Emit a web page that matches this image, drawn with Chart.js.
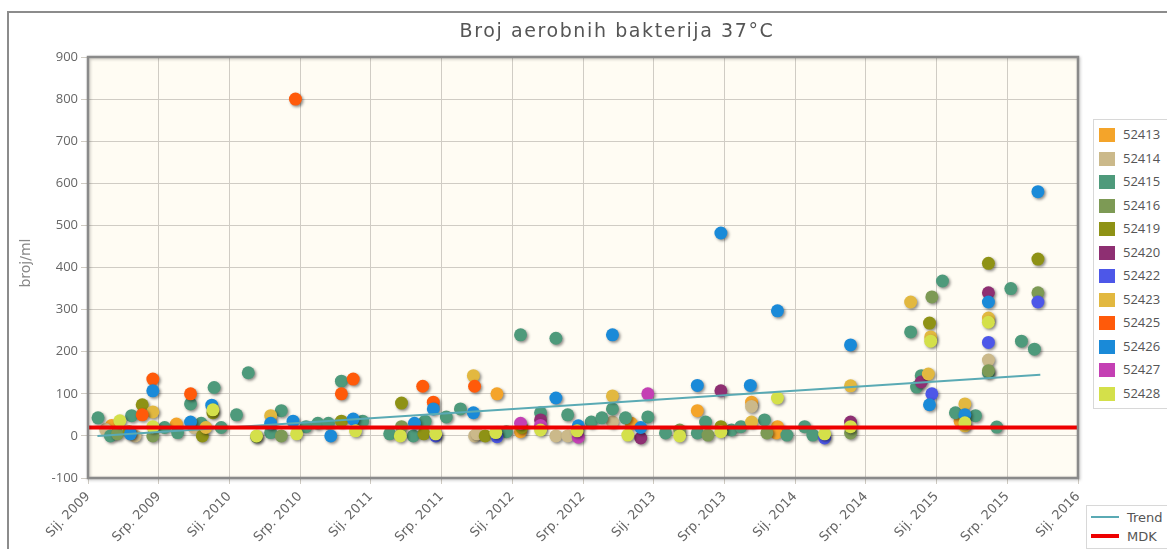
<!DOCTYPE html>
<html>
<head>
<meta charset="utf-8">
<script src="https://cdn.jsdelivr.net/npm/chart.js@4"></script>
<style>
    body { margin: 0; background: #fff; overflow: hidden; }
    #wrap { position: absolute; left: 0; top: 0; width: 1167px; height: 549px; }
    #title { position: absolute; left: 0; top: 19px; width: 1234px; text-align: center;
             font: 19px "DejaVu Sans", sans-serif; color: #555; letter-spacing: 1.6px; }
    #ytitle { position: absolute; left: -5px; top: 255px; width: 60px; text-align: center;
              font: 14px "DejaVu Sans", sans-serif; color: #888; transform: rotate(-90deg); }
    .legend { position: absolute; background: #fff; border: 1px solid #d8d8d8;
              font: 13px "Open Sans", sans-serif; color: #555; }
    #legendSeries { left: 1093px; top: 119px; width: 90px; padding: 3px 0; }
    #legendSeries div { height: 23.5px; line-height: 23.5px; position: relative; padding-left: 29px; }
    #legendSeries span { position: absolute; left: 5px; top: 5px; width: 16px; height: 14px; }
    #legendLines { left: 1086px; top: 505px; width: 90px; padding: 2px 0; font: 13px "DejaVu Sans", sans-serif; }
    #legendLines div { height: 19px; line-height: 19px; position: relative; padding-left: 40px; }
    #legendLines span { position: absolute; left: 4px; top: 9px; width: 28px; }
</style>
</head>
<body>
<div id="wrap">
    <canvas id="chart" width="1167" height="549"></canvas>
    <div id="title">Broj aerobnih bakterija 37°C</div>
    <div id="ytitle">broj/ml</div>
    <div id="legendSeries" class="legend"></div>
    <div id="legendLines" class="legend"></div>
</div>
<script>
// x = months since Sij. 2009, y = broj/ml
const tickLabels = ["Sij. 2009", "Srp. 2009", "Sij. 2010", "Srp. 2010", "Sij. 2011", "Srp. 2011", "Sij. 2012", "Srp. 2012",
    "Sij. 2013", "Srp. 2013", "Sij. 2014", "Srp. 2014", "Sij. 2015", "Srp. 2015", "Sij. 2016"];

const seriesNames = ["52413", "52414", "52415", "52416", "52419", "52420", "52422", "52423", "52425", "52426", "52427", "52428"];
const seriesColors = ["#f4a42a", "#cbb98a", "#4e9a7b", "#7d9a55", "#8e9215", "#8e2f72", "#4d57e8", "#e2b840", "#ff5a0a", "#1a8ad8", "#c440b4", "#d4e04a"];

const s52413 = [[2.0, 25], [7.5, 28], [34.7, 100], [36.7, 10], [46.1, 30], [51.7, 60], [56.3, 80], [58.5, 22], [58.4, 7], [74.0, 35]];
const s52414 = [[1.5, 15], [4.0, 0], [9.0, 20], [32.8, 0], [33.0, 5], [39.7, 0], [40.7, 0], [44.5, 33], [56.3, 70], [76.4, 180]];
const s52415 = [[0.85, 43], [1.9, 0], [3.7, 48], [6.5, 20], [7.6, 8], [8.7, 76], [9.6, 30], [10.7, 115], [11.3, 20], [12.6, 50],
    [13.6, 150], [15.5, 8], [16.4, 60], [18.5, 22], [19.5, 30], [20.4, 30], [21.5, 130], [23.3, 35], [25.6, 5], [27.6, 0],
    [28.6, 35], [30.4, 45], [31.6, 64], [35.5, 10], [36.7, 240], [38.4, 55], [39.7, 232], [40.7, 50], [42.7, 33], [43.6, 43],
    [44.5, 64], [45.6, 43], [47.5, 45], [49.0, 7], [51.7, 7], [52.4, 33], [54.6, 14], [55.4, 22], [57.4, 38], [59.3, 2],
    [60.8, 22], [61.5, 2], [69.8, 247], [70.7, 143], [70.3, 116], [72.5, 368], [73.6, 55], [75.3, 48], [77.1, 21], [76.4, 150],
    [78.3, 350], [79.2, 225], [80.3, 206]];
const s52416 = [[2.5, 5], [5.5, 0], [14.3, -2], [16.4, 0], [26.6, 22], [50.2, 14], [52.6, 2], [57.6, 7], [64.7, 7], [71.6, 330], [76.4, 155], [80.6, 340]];
const s52419 = [[3.5, 10], [4.6, 74], [9.7, 0], [10.6, 55], [21.5, 35], [26.6, 78], [28.5, 5], [33.7, 0], [36.8, 20], [53.7, 22], [71.4, 268], [76.4, 410], [80.6, 420]];
const s52420 = [[38.4, 38], [46.9, -5], [53.7, 107], [64.7, 33], [70.7, 128], [76.4, 340]];
const s52422 = [[29.5, 0], [34.7, -2], [62.5, -5], [71.6, 100], [76.4, 222], [80.6, 318]];
const s52423 = [[5.5, 57], [10.0, 20], [15.5, 48], [32.7, 143], [44.5, 95], [56.3, 33], [64.7, 119], [69.8, 318], [71.5, 235], [71.3, 147], [74.4, 76], [74.4, 24], [76.4, 280]];
const s52425 = [[4.6, 50], [5.5, 135], [8.7, 100], [17.6, 800], [21.5, 100], [22.5, 135], [28.4, 118], [29.3, 80], [32.8, 118]];
const s52426 = [[3.6, 5], [5.5, 107], [8.7, 33], [10.5, 73], [15.5, 30], [17.4, 35], [20.6, 0], [22.5, 40], [27.7, 30], [29.3, 64],
    [32.7, 55], [39.7, 90], [41.6, 24], [44.5, 240], [46.9, 20], [51.7, 120], [53.7, 482], [56.2, 120], [58.5, 297], [64.7, 216],
    [71.4, 74], [74.4, 50], [76.4, 318], [80.6, 580]];
const s52427 = [[36.7, 30], [38.4, 25], [41.6, -3], [47.5, 100]];
const s52428 = [[2.7, 36], [5.5, 22], [10.6, 62], [14.3, 0], [17.7, 5], [22.7, 12], [26.5, 0], [29.5, 5], [34.6, 8], [38.4, 14],
    [41.5, 12], [45.8, 2], [50.2, 0], [53.7, 10], [58.5, 90], [62.5, 5], [64.7, 22], [71.5, 225], [74.4, 31], [76.4, 270]];

const seriesData = [s52413, s52414, s52415, s52416, s52419, s52420, s52422, s52423, s52425, s52426, s52427, s52428];

const trendPoints = [[0.8, 0], [80.8, 145]];
const mdkValue = 20;

// =============== Datasets ===============
const datasets = [
    {
        type: "line", label: "MDK", order: 0,
        data: [{ x: 0, y: mdkValue }, { x: 84, y: mdkValue }],
        borderColor: "#ee0000", borderWidth: 4, pointRadius: 0
    },
    {
        type: "line", label: "Trend", order: 1,
        data: trendPoints.map(p => ({ x: p[0], y: p[1] })),
        borderColor: "#5aaab4", borderWidth: 2, pointRadius: 0
    }
];
seriesNames.forEach((name, i) => {
    datasets.push({
        type: "scatter", label: name, shadow: true,
        order: 2 + (seriesNames.length - 1 - i), // later series drawn on top
        data: seriesData[i].map(p => ({ x: p[0], y: p[1] })),
        backgroundColor: seriesColors[i],
        pointRadius: 6.5, pointBorderWidth: 0
    });
});

// =============== Plot background, frame and dot shadows ===============
const decorPlugin = {
    id: "decor",
    beforeDraw(chart) {
        const { ctx, chartArea: a } = chart;
        ctx.save();
        ctx.fillStyle = "#fffcf3";
        ctx.fillRect(a.left, a.top, a.right - a.left, a.bottom - a.top);
        ctx.strokeStyle = "#8c8c8c";
        ctx.lineWidth = 2;
        ctx.beginPath();
        ctx.moveTo(8, 549); ctx.lineTo(8, 12); ctx.lineTo(1167, 12);
        ctx.stroke();
        ctx.restore();
    },
    beforeDatasetDraw(chart, args) {
        if (!chart.data.datasets[args.index].shadow) return;
        const ctx = chart.ctx;
        ctx.save();
        ctx.shadowColor = "rgba(0,0,0,0.45)";
        ctx.shadowBlur = 3;
        ctx.shadowOffsetX = 1.5;
        ctx.shadowOffsetY = 1.5;
    },
    afterDatasetDraw(chart, args) {
        if (chart.data.datasets[args.index].shadow) chart.ctx.restore();
    },
    afterDraw(chart) {
        const { ctx, chartArea: a } = chart;
        ctx.save();
        ctx.shadowColor = "rgba(0,0,0,0.25)";
        ctx.shadowBlur = 3;
        ctx.shadowOffsetX = 1;
        ctx.shadowOffsetY = 1;
        ctx.strokeStyle = "#8a8a8a";
        ctx.lineWidth = 2.5;
        ctx.strokeRect(a.left, a.top, a.right - a.left, a.bottom - a.top);
        ctx.restore();
    }
};

new Chart(document.getElementById("chart").getContext("2d"), {
    data: { datasets: datasets },
    plugins: [decorPlugin],
    options: {
        responsive: false,
        animation: false,
        events: [],
        layout: { padding: { left: 0, top: 57, right: 89, bottom: 0 } },
        plugins: { legend: { display: false }, tooltip: { enabled: false } },
        scales: {
            x: {
                type: "linear", min: 0, max: 84,
                ticks: {
                    stepSize: 6, autoSkip: false, maxRotation: 46, minRotation: 46,
                    color: "#666", font: { family: "DejaVu Sans", size: 13 }, padding: 5,
                    callback: v => tickLabels[Math.round(v / 6)]
                },
                grid: { color: "#d0ccc4", tickLength: 6 },
                border: { display: false },
                afterFit(s) { s.height = 71; }
            },
            y: {
                min: -100, max: 900,
                ticks: { stepSize: 100, color: "#666", font: { family: "Open Sans", size: 13 }, padding: 3 },
                grid: { color: "#d0ccc4", tickLength: 7 },
                border: { display: false },
                afterFit(s) { s.width = 88; }
            }
        }
    }
});

// =============== Legends ===============
const legendSeries = document.getElementById("legendSeries");
seriesNames.forEach((name, i) => {
    const row = document.createElement("div");
    row.innerHTML = `<span style="background:${seriesColors[i]}"></span>${name}`;
    legendSeries.appendChild(row);
});
const legendLines = document.getElementById("legendLines");
[["Trend", "#5aaab4", 2], ["MDK", "#ee0000", 4]].forEach(([name, color, w]) => {
    const row = document.createElement("div");
    row.innerHTML = `<span style="border-top:${w}px solid ${color};margin-top:-${w / 2}px"></span>${name}`;
    legendLines.appendChild(row);
});
</script>
</body>
</html>
